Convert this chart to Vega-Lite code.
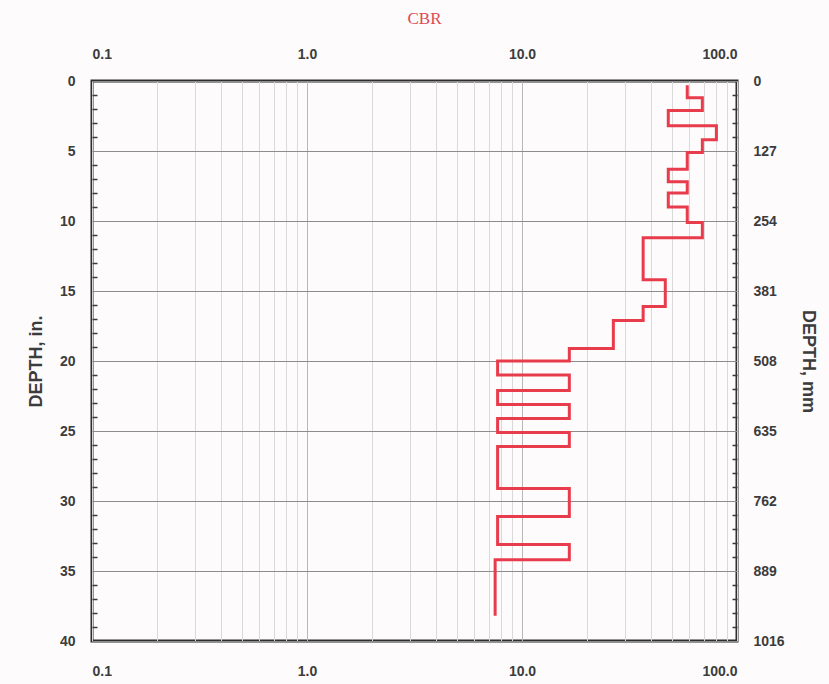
{
  "$schema": "https://vega.github.io/schema/vega-lite/v6.json",
  "width": 645,
  "height": 560,
  "autosize": {"type": "none"},
  "padding": {"left": 92, "top": 81, "right": 92, "bottom": 43},
  "background": "#fdfbfb",
  "config": {
    "view": {"stroke": "#2e2e2e", "strokeWidth": 3},
    "axis": {
      "labelFont": "Liberation Sans",
      "labelFontWeight": "bold",
      "labelFontSize": 14,
      "labelColor": "#3c3c3c",
      "titleFont": "Liberation Sans",
      "titleFontWeight": "bold",
      "titleFontSize": 18,
      "titleColor": "#3c3c3c",
      "domain": false,
      "labelOverlap": false
    }
  },
  "data": {
    "values": [
      {"depth": 0.3, "cbr": 58.7},
      {"depth": 1.2, "cbr": 69.0},
      {"depth": 2.1, "cbr": 47.9},
      {"depth": 3.2, "cbr": 80.2},
      {"depth": 4.2, "cbr": 69.0},
      {"depth": 5.1, "cbr": 58.7},
      {"depth": 6.3, "cbr": 47.9},
      {"depth": 7.2, "cbr": 58.7},
      {"depth": 8.0, "cbr": 47.9},
      {"depth": 9.0, "cbr": 58.7},
      {"depth": 10.1, "cbr": 69.0},
      {"depth": 11.2, "cbr": 36.6},
      {"depth": 14.2, "cbr": 46.4},
      {"depth": 16.1, "cbr": 36.6},
      {"depth": 17.1, "cbr": 26.6},
      {"depth": 19.1, "cbr": 16.6},
      {"depth": 20.0, "cbr": 7.7},
      {"depth": 21.0, "cbr": 16.6},
      {"depth": 22.1, "cbr": 7.7},
      {"depth": 23.1, "cbr": 16.6},
      {"depth": 24.1, "cbr": 7.7},
      {"depth": 25.1, "cbr": 16.6},
      {"depth": 26.1, "cbr": 7.7},
      {"depth": 29.1, "cbr": 16.6},
      {"depth": 31.1, "cbr": 7.7},
      {"depth": 33.1, "cbr": 16.6},
      {"depth": 34.2, "cbr": 7.5},
      {"depth": 38.2, "cbr": 7.5}
    ]
  },
  "layer": [
    {
      "mark": {"type": "line", "interpolate": "step-before", "color": "#e83c4c", "strokeWidth": 3},
      "encoding": {
        "x": {
          "field": "cbr", "type": "quantitative",
          "scale": {"type": "log", "domain": [0.1, 100], "nice": false},
          "axis": {
            "orient": "bottom",
            "title": null,
            "values": [0.1,0.2,0.3,0.4,0.5,0.6,0.7,0.8,0.9,1,2,3,4,5,6,7,8,9,10,20,30,40,50,60,70,80,90,100],
            "labelExpr": "indexof([0.1,1,10,100], datum.value) >= 0 ? format(datum.value, '.1f') : ''",
            "ticks": false,
            "labelPadding": 23,
            "grid": true,
            "gridColor": {"condition": {"test": "indexof([1,10], datum.value) >= 0", "value": "#b8b8b8"}, "value": "#d9d9d9"},
            "gridWidth": 1
          }
        },
        "y": {
          "field": "depth", "type": "quantitative",
          "scale": {"domain": [0, 40], "reverse": true, "nice": false},
          "axis": {
            "orient": "left",
            "title": "DEPTH, in.",
            "values": [0,5,10,15,20,25,30,35,40],
            "ticks": false,
            "labelPadding": 17,
            "titlePadding": 14,
            "grid": true,
            "gridColor": "#8c8c8c",
            "gridWidth": 1.2
          }
        },
        "order": {"field": "depth"}
      }
    },
    {
      "mark": {"type": "line", "opacity": 0},
      "encoding": {
        "x": {
          "field": "cbr", "type": "quantitative",
          "axis": {
            "orient": "top",
            "title": "CBR",
            "titleColor": "#e04a55",
            "titleFont": "Liberation Serif",
            "titleFontWeight": "normal",
            "titleFontSize": 17,
            "titlePadding": 20,
            "titleX": 332,
            "values": [0.1, 1, 10, 100],
            "labelExpr": "format(datum.value, '.1f')",
            "ticks": false,
            "labelPadding": 20,
            "grid": false
          }
        },
        "y": {
          "field": "depth", "type": "quantitative",
          "axis": {
            "orient": "right",
            "title": "DEPTH, mm",
            "values": [0,5,10,15,20,25,30,35,40],
            "labelExpr": "format(datum.value * 25.4, 'd')",
            "ticks": false,
            "labelPadding": 16,
            "titlePadding": 14,
            "grid": false
          }
        }
      }
    },
    {
      "mark": {"type": "line", "opacity": 0},
      "encoding": {
        "x": {"field": "cbr", "type": "quantitative", "axis": null},
        "y": {
          "field": "depth", "type": "quantitative",
          "axis": {
            "orient": "left",
            "title": null,
            "values": [1,2,3,4,6,7,8,9,11,12,13,14,16,17,18,19,21,22,23,24,26,27,28,29,31,32,33,34,36,37,38,39],
            "labels": false,
            "ticks": true,
            "tickSize": -5,
            "tickWidth": 1.5,
            "tickColor": "#3a3a3a",
            "grid": false
          }
        }
      }
    },
    {
      "mark": {"type": "line", "opacity": 0},
      "encoding": {
        "x": {"field": "cbr", "type": "quantitative", "axis": null},
        "y": {
          "field": "depth", "type": "quantitative",
          "axis": {
            "orient": "right",
            "title": null,
            "values": [1,2,3,4,6,7,8,9,11,12,13,14,16,17,18,19,21,22,23,24,26,27,28,29,31,32,33,34,36,37,38,39],
            "labels": false,
            "ticks": true,
            "tickSize": -5,
            "tickWidth": 1.5,
            "tickColor": "#3a3a3a",
            "grid": false
          }
        }
      }
    }
  ],
  "resolve": {"axis": {"x": "independent", "y": "independent"}}
}
